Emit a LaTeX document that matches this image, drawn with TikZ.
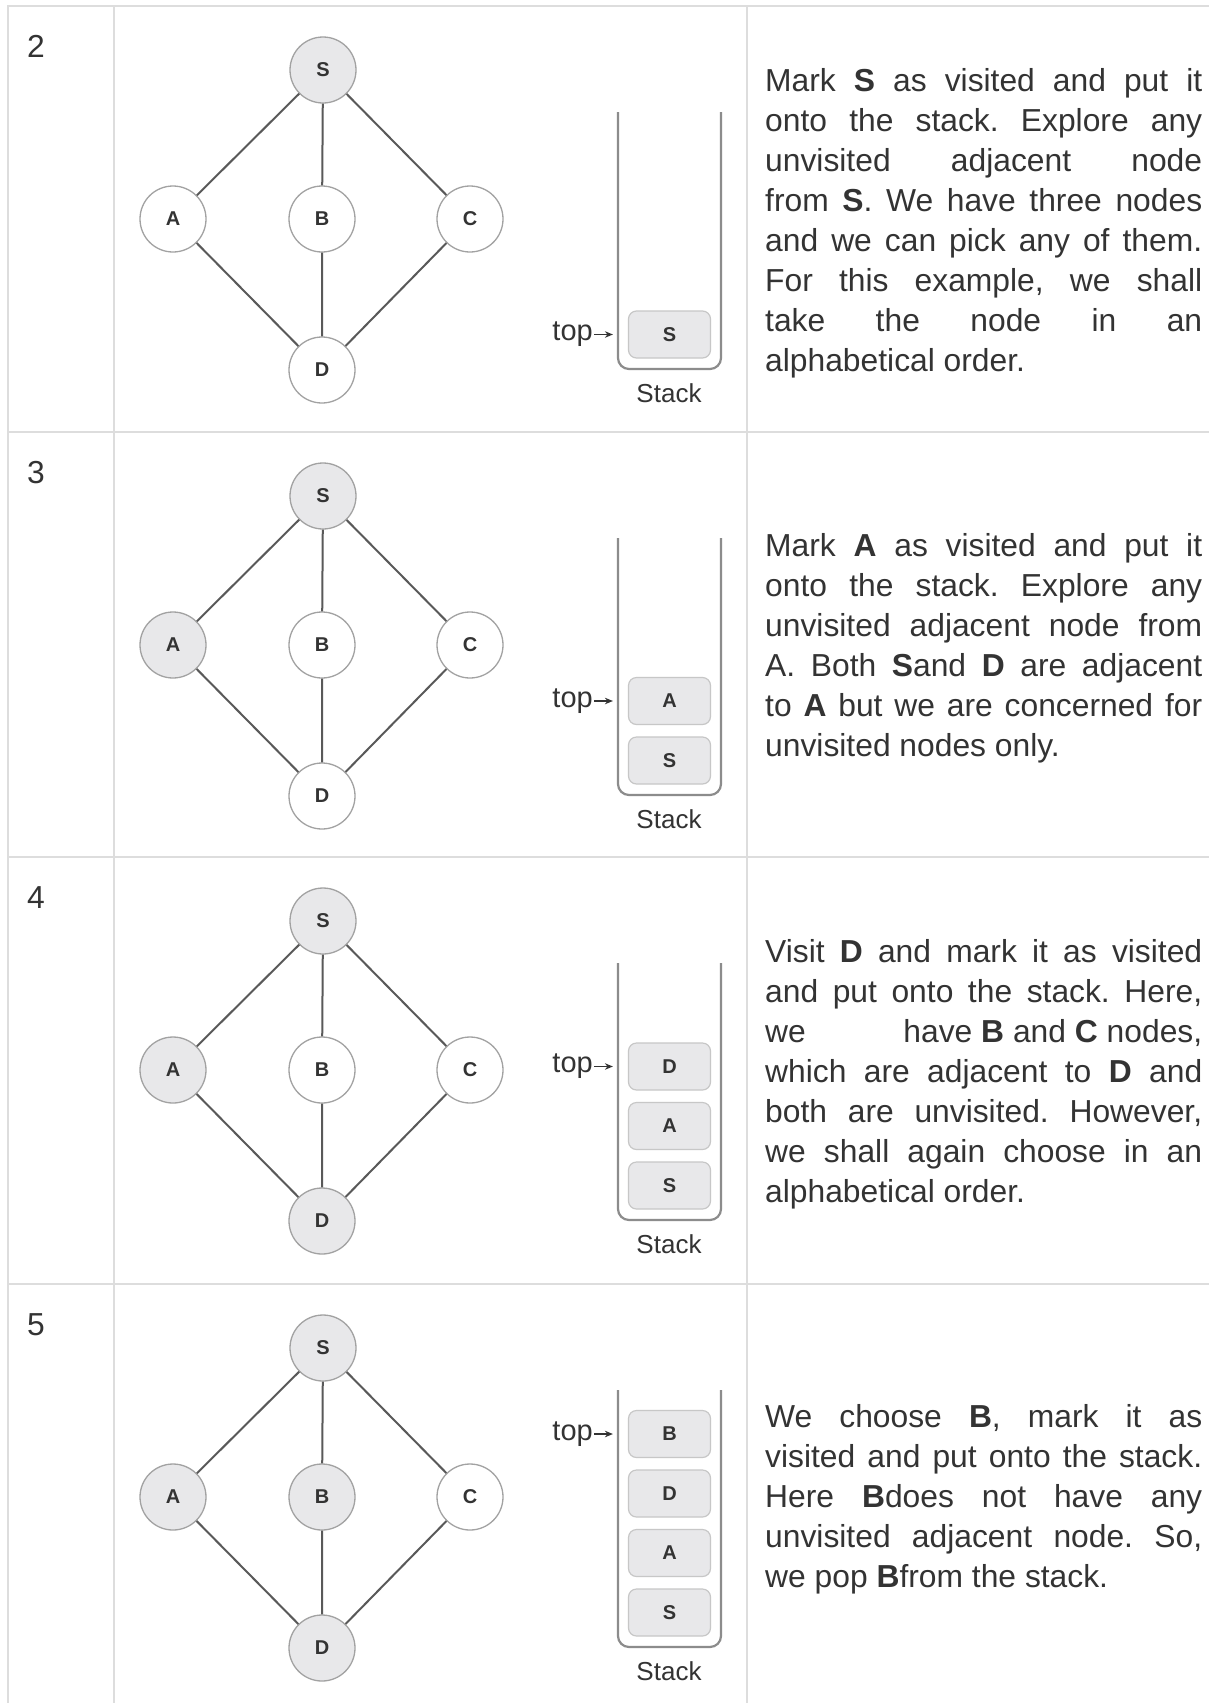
\documentclass[tikz,border=0pt]{standalone}
\usepackage{fontspec}
\setmainfont{Liberation Sans}
\frenchspacing
\usetikzlibrary{arrows.meta}

\definecolor{gridline}{HTML}{DDDDDD}
\definecolor{ink}{HTML}{333333}
\definecolor{visited}{HTML}{E8E8EA}
\definecolor{rim}{HTML}{A2A2A2}
\definecolor{stackwall}{HTML}{8C8C8C}

% one justified line of the notes, and the last (ragged) line
\newcommand{\jline}[1]{\makebox[437pt][s]{\strut#1}}
\newcommand{\lline}[1]{\strut#1}

\tikzset{
  vert/.style={circle, draw=rim, line width=1.3pt, fill=white, minimum size=66pt,
    inner sep=0pt, text=ink, font=\fontsize{20}{20}\selectfont\bfseries},
  seen/.style={vert, fill=visited},
  link/.style={draw=black!65, line width=2pt},
  slot/.style={rectangle, rounded corners=8pt, draw=black!22, line width=1.2pt,
    fill=visited, minimum width=82pt, minimum height=47pt, inner sep=0pt,
    text=ink, font=\fontsize{20}{20}\selectfont\bfseries},
  tube/.style={draw=stackwall, line width=2.2pt, rounded corners=11pt},
  toplbl/.style={anchor=east, inner sep=1pt, text=ink, font=\fontsize{29}{29}\selectfont},
  stacklbl/.style={text=ink, font=\fontsize{26}{26}\selectfont},
  stepno/.style={anchor=base west, inner sep=0pt, text=ink, font=\fontsize{31.8}{40}\selectfont},
  note/.style={anchor=north west, inner sep=0pt, align=left, text=ink,
    font=\fontsize{31.8}{40}\selectfont},
  ptr/.style={->, >={Stealth[length=8pt,width=6.5pt]}, draw=ink, line width=1.4pt, shorten >=15pt},
  grid/.style={draw=gridline, line width=2pt}
}

\begin{document}
\begin{tikzpicture}[x=1pt, y=-1pt]
    \fill[white] (0,0) rectangle (1209,1703);
    \useasboundingbox (0,0) rectangle (1209,1703);

    % Table rules
    \draw[grid] (8,1703) -- (8,6) -- (1209,6);
    \draw[grid] (114,6) -- (114,1703);
    \draw[grid] (747,6) -- (747,1703);
    \draw[grid] (8,432) -- (1209,432);
    \draw[grid] (8,857) -- (1209,857);
    \draw[grid] (8,1284) -- (1209,1284);

    % Step 2
    \begin{scope}[shift={(0,6)}]
        \node[stepno] (n2) at (27,51) {2};
        \node[seen] (S2) at (323,64) {S};
        \node[vert] (A2) at (173,213) {A};
        \node[vert] (B2) at (322,213) {B};
        \node[vert] (C2) at (470,213) {C};
        \node[vert] (D2) at (322,364) {D};
        \draw[link] (S2) -- (A2) (S2) -- (B2) (S2) -- (C2) (A2) -- (D2) (B2) -- (D2) (C2) -- (D2);
        \draw[tube] (618,106) -- (618,363) -- (721,363) -- (721,106);
        \node[slot] (k2S) at (669.5,328.5) {S};
        \node[toplbl] (t2) at (594,328.5) {top};
        \draw[ptr] (t2) -- (k2S);
        \node[stacklbl] (l2) at (669,387) {Stack};
        \node[note] (x2) at (765,57) {\jline{Mark \textbf{S} as visited and put it}\\
            \jline{onto the stack. Explore any}\\
            \jline{unvisited adjacent node}\\
            \jline{from \textbf{S}. We have three nodes}\\
            \jline{and we can pick any of them.}\\
            \jline{For this example, we shall}\\
            \jline{take the node in an}\\
            \lline{alphabetical order.}};
    \end{scope}

    % Step 3
    \begin{scope}[shift={(0,432)}]
        \node[stepno] (n3) at (27,51) {3};
        \node[seen] (S3) at (323,64) {S};
        \node[seen] (A3) at (173,213) {A};
        \node[vert] (B3) at (322,213) {B};
        \node[vert] (C3) at (470,213) {C};
        \node[vert] (D3) at (322,364) {D};
        \draw[link] (S3) -- (A3) (S3) -- (B3) (S3) -- (C3) (A3) -- (D3) (B3) -- (D3) (C3) -- (D3);
        \draw[tube] (618,106) -- (618,363) -- (721,363) -- (721,106);
        \node[slot] (k3S) at (669.5,328.5) {S};
        \node[slot] (k3A) at (669.5,269) {A};
        \node[toplbl] (t3) at (594,269) {top};
        \draw[ptr] (t3) -- (k3A);
        \node[stacklbl] (l3) at (669,387) {Stack};
        \node[note] (x3) at (765,96) {\jline{Mark \textbf{A} as visited and put it}\\
            \jline{onto the stack. Explore any}\\
            \jline{unvisited adjacent node from}\\
            \jline{A. Both \textbf{S}and \textbf{D} are adjacent}\\
            \jline{to \textbf{A} but we are concerned for}\\
            \lline{unvisited nodes only.}};
    \end{scope}

    % Step 4
    \begin{scope}[shift={(0,857)}]
        \node[stepno] (n4) at (27,51) {4};
        \node[seen] (S4) at (323,64) {S};
        \node[seen] (A4) at (173,213) {A};
        \node[vert] (B4) at (322,213) {B};
        \node[vert] (C4) at (470,213) {C};
        \node[seen] (D4) at (322,364) {D};
        \draw[link] (S4) -- (A4) (S4) -- (B4) (S4) -- (C4) (A4) -- (D4) (B4) -- (D4) (C4) -- (D4);
        \draw[tube] (618,106) -- (618,363) -- (721,363) -- (721,106);
        \node[slot] (k4S) at (669.5,328.5) {S};
        \node[slot] (k4A) at (669.5,269) {A};
        \node[slot] (k4D) at (669.5,209.5) {D};
        \node[toplbl] (t4) at (594,209.5) {top};
        \draw[ptr] (t4) -- (k4D);
        \node[stacklbl] (l4) at (669,387) {Stack};
        \node[note] (x4) at (765,77) {\jline{Visit \textbf{D} and mark it as visited}\\
            \jline{and put onto the stack. Here,}\\
            \jline{we\hfill have \textbf{B} and \textbf{C} nodes,}\\
            \jline{which are adjacent to \textbf{D} and}\\
            \jline{both are unvisited. However,}\\
            \jline{we shall again choose in an}\\
            \lline{alphabetical order.}};
    \end{scope}

    % Step 5
    \begin{scope}[shift={(0,1284)}]
        \node[stepno] (n5) at (27,51) {5};
        \node[seen] (S5) at (323,64) {S};
        \node[seen] (A5) at (173,213) {A};
        \node[seen] (B5) at (322,213) {B};
        \node[vert] (C5) at (470,213) {C};
        \node[seen] (D5) at (322,364) {D};
        \draw[link] (S5) -- (A5) (S5) -- (B5) (S5) -- (C5) (A5) -- (D5) (B5) -- (D5) (C5) -- (D5);
        \draw[tube] (618,106) -- (618,363) -- (721,363) -- (721,106);
        \node[slot] (k5S) at (669.5,328.5) {S};
        \node[slot] (k5A) at (669.5,269) {A};
        \node[slot] (k5D) at (669.5,209.5) {D};
        \node[slot] (k5B) at (669.5,150) {B};
        \node[toplbl] (t5) at (594,150) {top};
        \draw[ptr] (t5) -- (k5B);
        \node[stacklbl] (l5) at (669,387) {Stack};
        \node[note] (x5) at (765,115) {\jline{We choose \textbf{B}, mark it as}\\
            \jline{visited and put onto the stack.}\\
            \jline{Here \textbf{B}does not have any}\\
            \jline{unvisited adjacent node. So,}\\
            \lline{we pop \textbf{B}from the stack.}};
    \end{scope}
\end{tikzpicture}
\end{document}
